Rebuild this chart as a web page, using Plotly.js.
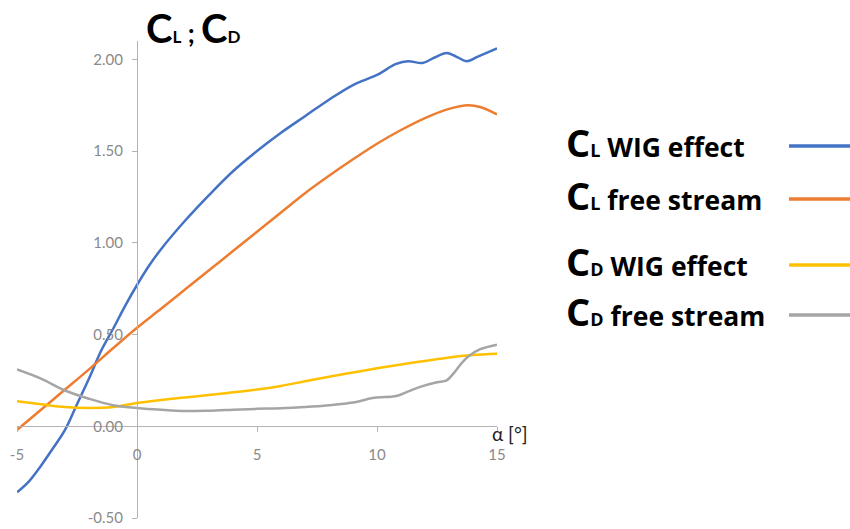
<!DOCTYPE html>
<html><head><meta charset="utf-8">
<script src="https://cdn.plot.ly/plotly-3.0.1.min.js"></script>
<style>html,body{margin:0;padding:0;background:#fff}#chart{width:850px;height:529px}</style>
</head><body><div id="chart"></div>
<script>
// ---- data ----
const clWigAlpha = [-5,-4.5,-4,-3.5,-3,-2.5,-2,-1.5,-1,-0.5,0,0.5,1,2,3,4,5,6,7,8,9,10,10.8,11.3,11.9,12.4,12.9,13.3,13.75,14.2,15];
const clWig      = [-0.36,-0.30,-0.215,-0.12,-0.02,0.12,0.26,0.41,0.53,0.655,0.77,0.875,0.965,1.12,1.26,1.39,1.50,1.60,1.69,1.78,1.86,1.915,1.975,1.99,1.98,2.01,2.035,2.015,1.99,2.015,2.06];

const clFreeAlpha = [-5,-4,-3,-2,-1,0,1,2,3,4,5,6,7,8,9,10,11,12,13,13.8,14.3,15];
const clFree      = [-0.02,0.09,0.20,0.31,0.425,0.537,0.64,0.745,0.85,0.955,1.06,1.165,1.27,1.365,1.455,1.54,1.615,1.68,1.73,1.75,1.74,1.70];

const cdWigAlpha = [-5,-4,-3,-2,-1,0,1,2,3,4,5,6,7,8,9,10,11,12,13,14,15];
const cdWig      = [0.136,0.12,0.105,0.10,0.105,0.127,0.143,0.157,0.17,0.185,0.20,0.22,0.245,0.27,0.293,0.316,0.337,0.356,0.375,0.388,0.395];

const cdFreeAlpha = [-5,-4,-3,-2,-1,0,1,2,3,4,5,6,7,8,9,9.9,10.8,11.3,11.8,12.5,12.9,13.2,13.5,13.8,14.3,15];
const cdFree      = [0.31,0.26,0.195,0.15,0.115,0.10,0.09,0.083,0.085,0.09,0.095,0.098,0.105,0.115,0.13,0.155,0.165,0.19,0.215,0.24,0.25,0.29,0.34,0.38,0.42,0.445];

const xTickVals = [-5,0,5,10,15];
const xTickText = ["-5","0","5","10","15"];
const yTickVals = [-0.5,0,0.5,1,1.5,2];
const yTickText = ["-0.50","0.00","0.50","1.00","1.50","2.00"];

const seriesNames = ["C<sub>L</sub> WIG effect","C<sub>L</sub> free stream","C<sub>D</sub> WIG effect","C<sub>D</sub> free stream"];
const legendMain = ["WIG effect","free stream","WIG effect","free stream"];
const legendSub = ["L","L","D","D"];
const colors = ["#4472C4","#ED7D31","#FFC000","#A5A5A5"];

// ---- layout geometry ----
const W = 850, H = 529, ML = 17, MR = 353, MT = 41, MB = 11;
const PW = W - ML - MR, PH = H - MT - MB;
const yRange = [-0.5, 2.1], xRange = [-5, 15];
const px = p => (p - ML) / PW;
const py = p => (H - MB - p) / PH;

const xs = [clWigAlpha, clFreeAlpha, cdWigAlpha, cdFreeAlpha];
const ys = [clWig, clFree, cdWig, cdFree];
const traces = ys.map((y, i) => ({
  x: xs[i], y: y, type: 'scatter', mode: 'lines', name: seriesNames[i],
  line: {color: colors[i], width: 2.5, shape: 'spline', smoothing: 1},
  hoverinfo: 'skip'
}));

const annotations = [];
const shapes = [];
// title
annotations.push({
  xref: 'paper', yref: 'paper', x: px(144), y: py(2), xanchor: 'left', yanchor: 'top',
  showarrow: false,
  text: 'C<span style="font-size:17px">L</span><span style="font-size:26px"> ; </span>C<span style="font-size:17px">D</span>',
  font: {family: 'Lato, Liberation Sans, sans-serif', size: 40, color: '#000', weight: 700}
});
// axis label
annotations.push({
  xref: 'x', yref: 'y', x: 15, y: 0, xanchor: 'left', yanchor: 'top', xshift: -7, yshift: 6,
  showarrow: false, text: 'α [°]',
  font: {family: 'Lato, Liberation Sans, sans-serif', size: 19, color: '#222'}
});
// custom legend
const rowLineY = [146, 199, 265, 315];
for (let i = 0; i < 4; i++) {
  annotations.push({
    xref: 'paper', yref: 'paper', x: px(564), y: py(rowLineY[i] - 4), xanchor: 'left', yanchor: 'middle',
    showarrow: false,
    text: '<span style="font-size:38px">C</span><span style="font-size:18px">' + legendSub[i] + '</span> ' + legendMain[i],
    font: {family: 'Open Sans, Lato, sans-serif', size: 26.5, color: '#000', weight: 700}
  });
  shapes.push({
    type: 'line', xref: 'paper', yref: 'paper',
    x0: px(789), x1: px(852), y0: py(rowLineY[i]), y1: py(rowLineY[i]),
    line: {color: colors[i], width: 3.5}
  });
}

const tickFont = {family: 'Lato, Liberation Sans, sans-serif', size: 15, color: '#8a8a8a'};
const layout = {
  width: W, height: H,
  margin: {l: ML, r: MR, t: MT, b: MB},
  paper_bgcolor: '#fff', plot_bgcolor: '#fff',
  showlegend: false,
  xaxis: {
    range: xRange, domain: [0, 1], anchor: 'free',
    position: (0 - yRange[0]) / (yRange[1] - yRange[0]),
    showgrid: false, zeroline: false, showline: true, linecolor: '#b3b3b3', linewidth: 1,
    ticks: 'outside', ticklen: 5, tickcolor: '#b3b3b3', tickmode: 'array',
    tickvals: xTickVals, ticktext: xTickText, tickfont: tickFont, ticklabelstandoff: 10
  },
  yaxis: {
    range: yRange, domain: [0, 1], anchor: 'free',
    position: (0 - xRange[0]) / (xRange[1] - xRange[0]),
    showgrid: false, zeroline: false, showline: true, linecolor: '#b3b3b3', linewidth: 1,
    ticks: 'outside', ticklen: 5, tickcolor: '#b3b3b3', tickmode: 'array',
    tickvals: yTickVals, ticktext: yTickText, tickfont: tickFont, ticklabelstandoff: 6
  },
  annotations: annotations,
  shapes: shapes
};

Plotly.newPlot('chart', traces, layout, {staticPlot: true, displayModeBar: false});
</script>
</body></html>
